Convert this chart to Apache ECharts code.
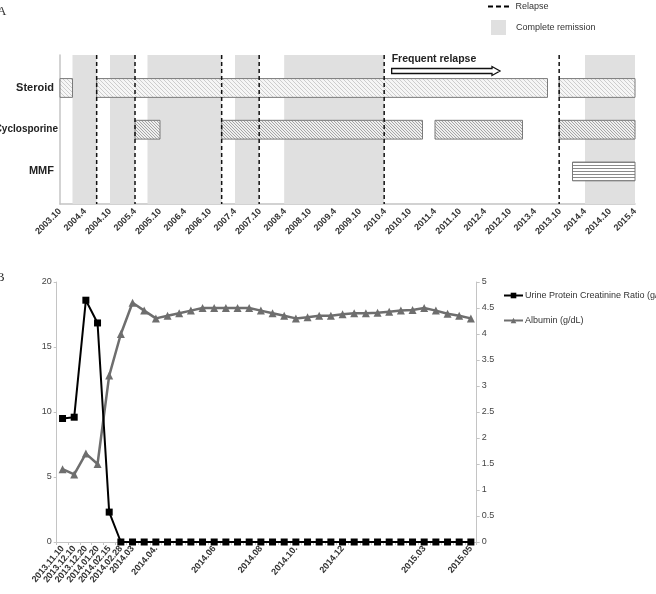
<!DOCTYPE html>
<html>
<head>
<meta charset="utf-8">
<script src="https://cdn.jsdelivr.net/npm/echarts@6/dist/echarts.min.js"></script>
<style>
html,body{margin:0;padding:0;background:#fff;}
#c{width:656px;height:594px;}
</style>
</head>
<body>
<div id="c"></div>
<script>
// ---------- Panel A data ----------
const axisTickLabelsA = ['2003.10','2004.4','2004.10','2005.4','2005.10','2006.4','2006.10','2007.4','2007.10','2008.4','2008.10','2009.4','2009.10','2010.4','2010.10','2011.4','2011.10','2012.4','2012.10','2013.4','2013.10','2014.4','2014.10','2015.4'];
const drugs = ['Steroid','Cyclosporine','MMF'];
const steroidPeriods = [['2003-10-01','2004-01-01'],['2004-06-25','2013-07-01'],['2013-09-25','2015-04-01']];
const cyclosporinePeriods = [['2005-04-01','2005-10-01'],['2006-12-25','2011-01-01'],['2011-04-01','2013-01-01'],['2013-09-25','2015-04-01']];
const mmfPeriods = [['2014-01-01','2015-04-01']];
const remissionPeriods = [['2004-01-01','2004-06-25'],['2004-10-01','2005-04-01'],['2005-07-01','2006-12-25'],['2007-04-01','2007-09-25'],['2008-03-25','2010-03-25'],['2014-04-01','2015-04-01']];
const relapseDates = ['2004-06-25','2005-04-01','2006-12-25','2007-09-25','2010-03-25','2013-09-25'];
const frequentRelapse = ['2010-05-19','2012-07-19'];

// ---------- Panel B data ----------
const visitLabels = ['2013.11.10','2013.12.10','2013.12.20','2014.01.20','2014.02.15','2014.02.28','2014.03','',
  '2014.04.','','','','','2014.06','','','','2014.08','','','2014.10.','','','','2014.12','','','','','','','2015.03','','','','2015.05'];
const upcr = [9.5,9.6,18.6,16.85,2.3,0,0,0,0,0,0,0,0,0,0,0,0,0,0,0,0,0,0,0,0,0,0,0,0,0,0,0,0,0,0,0];
const albumin = [1.4,1.3,1.7,1.5,3.2,4.0,4.6,4.45,4.3,4.35,4.4,4.45,4.5,4.5,4.5,4.5,4.5,4.45,4.4,4.35,4.3,4.32,4.35,4.35,4.38,4.4,4.4,4.41,4.43,4.45,4.46,4.5,4.45,4.39,4.35,4.3];

// ---------- helpers ----------
function toMonth(s){const p=s.split('-').map(Number);return (p[0]-2003)*12+(p[1]-10)+(p[2]-1)/30;}
function diagPattern(bg, fg, step){
  const c=document.createElement('canvas');c.width=step;c.height=step;
  const x=c.getContext('2d');x.fillStyle=bg;x.fillRect(0,0,step,step);
  x.strokeStyle=fg;x.lineWidth=1;x.beginPath();
  x.moveTo(-1,-1);x.lineTo(step+1,step+1);
  x.moveTo(-step-1,-1);x.lineTo(1,step+1);
  x.moveTo(step-1,-1);x.lineTo(2*step+1,step+1);
  x.stroke();return {image:c,repeat:'repeat'};
}
function horizPattern(bg, fg, step){
  const c=document.createElement('canvas');c.width=4;c.height=step;
  const x=c.getContext('2d');x.fillStyle=bg;x.fillRect(0,0,4,step);
  x.fillStyle=fg;x.fillRect(0,0,4,1);return {image:c,repeat:'repeat'};
}
const patterns=[diagPattern('#f6f6f6','#cdcdcd',4),diagPattern('#efefef','#a5a5a5',3),horizPattern('#ffffff','#8a8a8a',3)];

const barData=[];
[steroidPeriods,cyclosporinePeriods,mmfPeriods].forEach((arr,row)=>arr.forEach(p=>barData.push([toMonth(p[0]),toMonth(p[1]),row])));

const FONT='"Liberation Sans", Arial, sans-serif';
const chart=echarts.init(document.getElementById('c'));
chart.setOption({
  animation:false,
  textStyle:{fontFamily:FONT},
  graphic:[
    {type:'text',left:-3,top:5,style:{text:'A',font:'13px "Liberation Serif", serif',fill:'#333'}},
    {type:'text',left:-4,top:271,style:{text:'B',font:'13px "Liberation Serif", serif',fill:'#333'}}
  ],
  legend:[
    {left:488,top:2,padding:0,itemWidth:22,itemHeight:2,itemGap:5,data:[{name:'Relapse',icon:'path://M0,0h5v2h-5z M8,0h5v2h-5z M16,0h5v2h-5z'}],
     textStyle:{fontSize:9,color:'#333',fontFamily:FONT,padding:[0,0,0,1]},selectedMode:false},
    {left:491,top:20,padding:0,itemWidth:15,itemHeight:15,data:[{name:'Complete remission',icon:'rect'}],
     textStyle:{fontSize:9,color:'#333',fontFamily:FONT,padding:[0,0,0,5]},selectedMode:false},
    {left:503,top:291,padding:0,orient:'vertical',itemWidth:19,itemHeight:7,itemGap:16,
     data:['Urine Protein Creatinine Ratio (g/g)','Albumin (g/dL)'],
     textStyle:{fontSize:9,color:'#333',fontFamily:FONT,padding:[0,0,0,-3]},selectedMode:false}
  ],
  grid:[
    {left:60,right:21,top:55,height:149,outerBoundsMode:'none',containLabel:false},
    {left:56.7,right:179.3,top:282,height:260,outerBoundsMode:'none',containLabel:false}
  ],
  xAxis:[
    {type:'value',gridIndex:0,min:0,max:138,interval:6,
     axisLine:{show:true,onZero:false,lineStyle:{color:'#c4c4c4',width:1.5}},axisTick:{show:false},splitLine:{show:false},
     axisLabel:{rotate:45,margin:6,fontSize:9,fontWeight:'bold',color:'#333',formatter:v=>axisTickLabelsA[Math.round(v/6)]}},
    {type:'category',gridIndex:1,data:visitLabels,boundaryGap:true,
     axisLine:{onZero:false,lineStyle:{color:'#c4c4c4'}},axisTick:{show:true,interval:0,length:3,lineStyle:{color:'#c4c4c4'}},
     axisLabel:{interval:0,rotate:50,margin:5,fontSize:9,fontWeight:'bold',color:'#333'}}
  ],
  yAxis:[
    {type:'value',gridIndex:0,inverse:true,min:-0.79,max:2.78,
     axisLine:{show:true,onZero:false,lineStyle:{color:'#c4c4c4',width:1.5}},axisTick:{show:false},splitLine:{show:false},
     axisLabel:{customValues:[0,1,2],margin:6,fontSize:11,fontWeight:'bold',color:'#222',
       formatter:v=>{const n=drugs[Math.round(v)];return n.length>8?'{s|'+n+'}':n;},
       rich:{s:{fontSize:10,fontWeight:'bold',color:'#222',fontFamily:FONT,padding:[0,-4,0,0]}}}},
    {type:'value',gridIndex:1,min:0,max:20,interval:5,position:'left',
     axisLine:{show:true,onZero:false,lineStyle:{color:'#c4c4c4'}},axisTick:{show:true,length:3,lineStyle:{color:'#c4c4c4'}},splitLine:{show:false},
     axisLabel:{fontSize:9,color:'#444',margin:5}},
    {type:'value',gridIndex:1,min:0,max:5,interval:0.5,position:'right',
     axisLine:{show:true,onZero:false,lineStyle:{color:'#c4c4c4'}},axisTick:{show:true,length:3,lineStyle:{color:'#c4c4c4'}},splitLine:{show:false},
     axisLabel:{fontSize:9,color:'#444',margin:5}}
  ],
  series:[
    {name:'Complete remission',type:'custom',xAxisIndex:0,yAxisIndex:0,z:1,itemStyle:{color:'#e0e0e0'},
     data:remissionPeriods.map(p=>[toMonth(p[0]),toMonth(p[1]),0]),encode:{x:[0,1],y:2},
     renderItem:(params,api)=>{const cs=params.coordSys;const a=api.coord([api.value(0),0]);const b=api.coord([api.value(1),0]);
       return {type:'rect',shape:{x:a[0],y:cs.y,width:b[0]-a[0],height:cs.height},style:{fill:'#e0e0e0'}};}},
    {name:'Treatment',type:'custom',xAxisIndex:0,yAxisIndex:0,z:2,data:barData,encode:{x:[0,1],y:2},
     renderItem:(params,api)=>{const row=api.value(2);const a=api.coord([api.value(0),row]);const b=api.coord([api.value(1),row]);
       const h=Math.abs(api.size([0,1])[1])*0.45;
       return {type:'rect',shape:{x:a[0],y:a[1]-h/2,width:b[0]-a[0],height:h},style:{fill:patterns[row],stroke:'#7a7a7a',lineWidth:1}};}},
    {name:'Relapse',type:'custom',xAxisIndex:0,yAxisIndex:0,z:3,itemStyle:{color:'#000'},
     data:relapseDates.map(d=>[toMonth(d),0]),encode:{x:0,y:1},
     renderItem:(params,api)=>{const cs=params.coordSys;const a=api.coord([api.value(0),0]);
       return {type:'line',shape:{x1:a[0],y1:cs.y,x2:a[0],y2:cs.y+cs.height},style:{stroke:'#111',lineWidth:1.5,lineDash:[4,3]}};}},
    {name:'Frequent relapse',type:'custom',xAxisIndex:0,yAxisIndex:0,z:4,
     data:[[toMonth(frequentRelapse[0]),toMonth(frequentRelapse[1]),0]],encode:{x:[0,1],y:2},
     renderItem:(params,api)=>{const cs=params.coordSys;const a=api.coord([api.value(0),0]);const b=api.coord([api.value(1),0]);
       const y=cs.y+16,sh=2.5,hh=4.5,hl=8;
       const pts=[[a[0],y-sh],[b[0]-hl,y-sh],[b[0]-hl,y-hh],[b[0],y],[b[0]-hl,y+hh],[b[0]-hl,y+sh],[a[0],y+sh]];
       return {type:'group',children:[
         {type:'polygon',shape:{points:pts},style:{fill:'#fff',stroke:'#111',lineWidth:1.3}},
         {type:'text',style:{text:'Frequent relapse',x:a[0],y:cs.y+4,verticalAlign:'middle',font:'bold 10.5px '+FONT,fill:'#222'}}
       ]};}},
    {name:'Urine Protein Creatinine Ratio (g/g)',type:'line',xAxisIndex:1,yAxisIndex:1,data:upcr,
     symbol:'rect',symbolSize:7,lineStyle:{color:'#000',width:2},itemStyle:{color:'#000'},z:6},
    {name:'Albumin (g/dL)',type:'line',xAxisIndex:1,yAxisIndex:2,data:albumin,
     symbol:'triangle',symbolSize:8,lineStyle:{color:'#6e6e6e',width:2.5},itemStyle:{color:'#6e6e6e'},z:5}
  ]
});
</script>
</body>
</html>
